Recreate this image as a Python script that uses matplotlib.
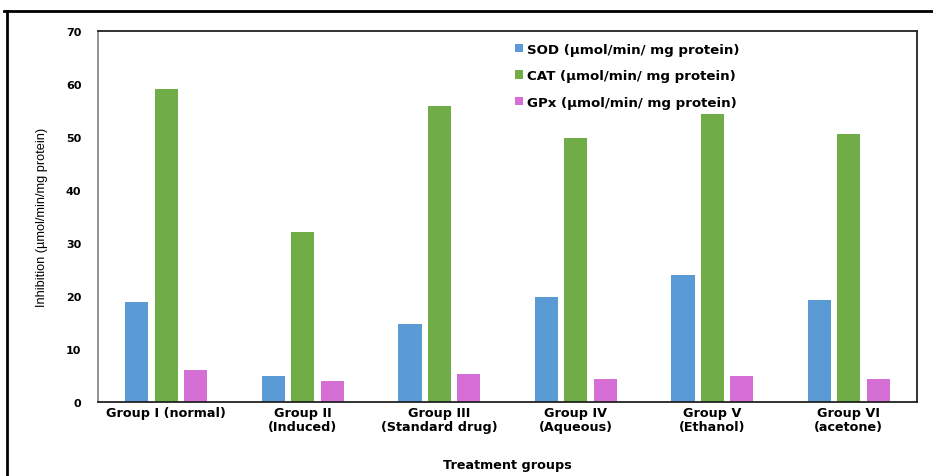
import matplotlib
matplotlib.use("Agg")
import matplotlib.pyplot as plt
import numpy as np
from matplotlib.lines import Line2D

categories = ["Group I (normal)", "Group II\n(Induced)", "Group III\n(Standard drug)",
              "Group IV\n(Aqueous)", "Group V\n(Ethanol)", "Group VI\n(acetone)"]
series_names = ["SOD (µmol/min/ mg protein)", "CAT (µmol/min/ mg protein)", "GPx (µmol/min/ mg protein)"]
sod = [18.9, 4.9, 14.7, 19.9, 24.0, 19.3]
cat = [59.1, 32.1, 55.8, 49.8, 54.3, 50.5]
gpx = [6.0, 4.0, 5.3, 4.3, 4.9, 4.4]
colors = ["#5B9BD5", "#70AD47", "#D56FD5"]
yticks = [0, 10, 20, 30, 40, 50, 60, 70]

plt.rcParams['font.family'] = ['DejaVu Sans']
bold_font = {'family': ['DejaVu Sans'], 'weight': 'bold'}

fig = plt.figure(figsize=(9.33, 4.77), dpi=100)
ax = fig.add_axes([0.105, 0.155, 0.878, 0.778])

x = np.arange(len(categories))
w = 0.17
step = 0.215
for i, (vals, name, c) in enumerate(zip([sod, cat, gpx], series_names, colors)):
    ax.bar(x + (i - 1) * step, vals, width=w, color=c, label=name)

ax.set_xlim(-0.5, len(categories) - 0.5)
ax.set_ylim(0, 70)
ax.set_yticks(yticks)
ax.set_yticklabels([str(t) for t in yticks], fontdict=bold_font, fontsize=8)
ax.set_xticks(x)
ax.set_xticklabels(categories, fontdict=bold_font, fontsize=9.2, linespacing=1.1)
ax.tick_params(axis='both', length=0)
ax.tick_params(axis='y', pad=12)
ax.tick_params(axis='x', pad=3)
for s in ax.spines.values():
    s.set_linewidth(1.3)
    s.set_color('#222222')
ax.spines['left'].set_color('#888888')

ax.set_ylabel("Inhibition (µmol/min/mg protein)", family=['Liberation Sans', 'DejaVu Sans'],
              fontsize=9.2, labelpad=13)
ax.set_xlabel("Treatment groups", fontdict=bold_font, fontsize=9.2, labelpad=18)

leg = ax.legend(loc='upper left', bbox_to_anchor=(0.495, 1.0), frameon=False,
                prop={'family': ['DejaVu Sans'], 'weight': 'bold', 'size': 9.6},
                handlelength=0.6, handleheight=0.6,
                handletextpad=0.3, labelspacing=1.0)

# outer frame lines
fig.add_artist(Line2D([4/933, 1.0], [1 - 12/477, 1 - 12/477], color='black', lw=2, transform=fig.transFigure))
fig.add_artist(Line2D([7/933, 7/933], [0, 1 - 12/477], color='black', lw=2, transform=fig.transFigure))

fig.savefig("out.png", dpi=100)
